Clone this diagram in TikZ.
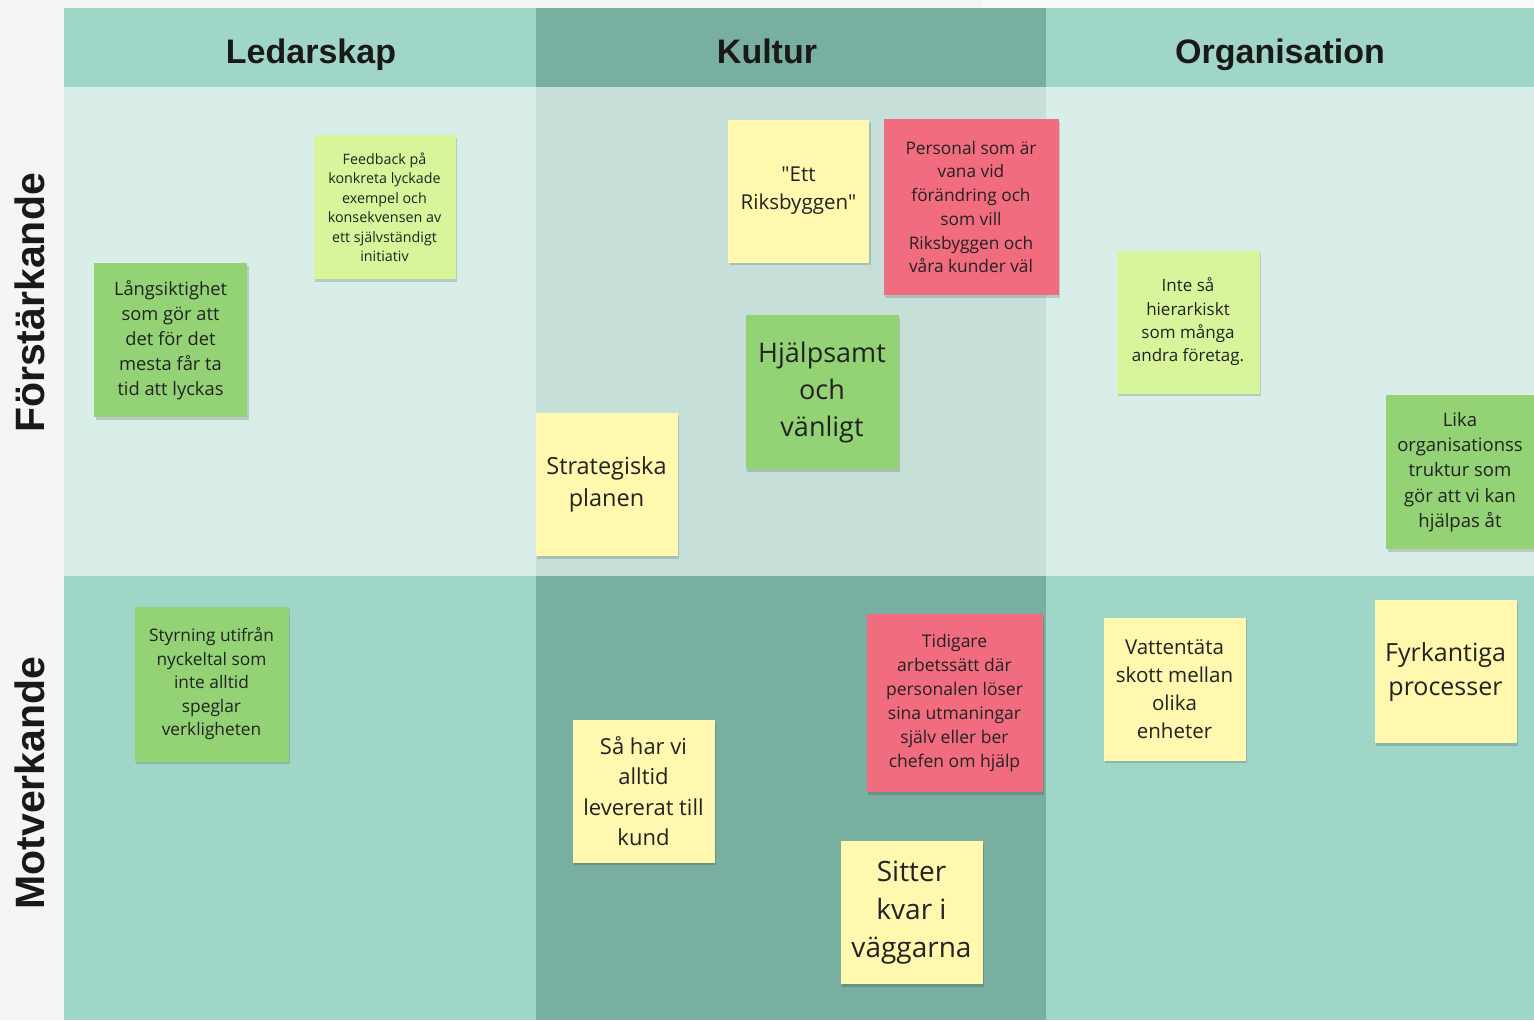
\documentclass[tikz,border=0pt]{standalone}
\usepackage{fontspec}
\setmainfont{Open Sans}
\newfontfamily\qfont{Open Sans}
\newfontfamily\hdrfont{Liberation Sans}
\usetikzlibrary{shadows}
\definecolor{bgside}{HTML}{F5F5F5}
\definecolor{hdrlight}{HTML}{A0D6C8}
\definecolor{hdrdark}{HTML}{79AFA0}
\definecolor{celllight}{HTML}{D9EEE8}
\definecolor{cellmid}{HTML}{C6E0D9}
\definecolor{ngreen}{HTML}{93D275}
\definecolor{nlgreen}{HTML}{D9F59B}
\definecolor{nyellow}{HTML}{FFF8AE}
\definecolor{nred}{HTML}{F16C7F}
\definecolor{ntext}{HTML}{222222}
\tikzset{
  notebox/.style={rectangle, inner sep=0pt, align=center, text=ntext,
    drop shadow={shadow xshift=1.5pt, shadow yshift=-2.5pt, opacity=0.15, fill=black}},
  hdr/.style={font=\hdrfont\bfseries\fontsize{34}{40}\selectfont, text=black!90, anchor=base},
  rowlab/.style={font=\hdrfont\bfseries\fontsize{41}{48}\selectfont, text=black!90, rotate=90},
}
\newcommand{\fs}[2]{\fontsize{#1}{#2}\selectfont}
\newcommand{\dq}{{\qfont"}}
\begin{document}
\begin{tikzpicture}[x=1pt,y=-1pt]
\useasboundingbox (0,0) rectangle (1534,1020);
% backgrounds
\fill[bgside] (0,0) rectangle (1534,1020);
\fill[white!98!black] (983,0) rectangle (1534,8);
% header row
\fill[hdrlight] (64,8) rectangle (536,87);
\fill[hdrdark] (536,8) rectangle (1046,87);
\fill[hdrlight] (1046,8) rectangle (1534,87);
% row 1
\fill[celllight] (64,87) rectangle (536,576);
\fill[cellmid] (536,87) rectangle (1046,576);
\fill[celllight] (1046,87) rectangle (1534,576);
% row 2
\fill[hdrlight] (64,576) rectangle (536,1020);
\fill[hdrdark] (536,576) rectangle (1046,1020);
\fill[hdrlight] (1046,576) rectangle (1534,1020);
% headers
\node[hdr] (hLed) at (311,63.5) {Ledarskap};
\node[hdr] (hKul) at (767,63.5) {Kultur};
\node[hdr] (hOrg) at (1280,63.5) {Organisation};
\node[rowlab] (rFor) at (30,303) {Förstärkande};
\node[rowlab] (rMot) at (30,783) {Motverkande};
% notes
\node[notebox, fill=nlgreen, minimum width=142, minimum height=144, font=\fs{14.3}{19.5}] (feedback) at (384.5,207)
  {Feedback på\\konkreta lyckade\\exempel och\\konsekvensen av\\ett självständigt\\initiativ};
\node[notebox, fill=ngreen, minimum width=153, minimum height=154, font=\fs{18.3}{25}] (lang) at (170.5,340)
  {Långsiktighet\\som gör att\\det för det\\mesta får ta\\tid att lyckas};
\node[notebox, fill=nyellow, minimum width=141, minimum height=143, font=\fs{20.5}{28}] (ett) at (798.5,191)
  {\dq Ett\\Riksbyggen\dq};
\node[notebox, fill=nred, minimum width=175, minimum height=176, font=\fs{17.3}{23.7}] (personal) at (971,207)
  {Personal som är\\vana vid\\förändring och\\som vill\\Riksbyggen och\\våra kunder väl};
\node[notebox, fill=ngreen, minimum width=153, minimum height=154, font=\fs{27}{37}] (hjalp) at (822,392)
  {Hjälpsamt\\och\\vänligt};
\node[notebox, fill=nyellow, minimum width=142, minimum height=143, font=\fs{23.5}{32}] (strat) at (606.5,484.5)
  {Strategiska\\planen};
\node[notebox, fill=nlgreen, minimum width=143, minimum height=143, font=\fs{17}{23.3}] (inte) at (1188,322)
  {Inte så\\hierarkiskt\\som många\\andra företag.};
\node[notebox, fill=ngreen, minimum width=148, minimum height=154, font=\fs{18.5}{25.2}] (lika) at (1460,472)
  {Lika\\organisationss\\truktur som\\gör att vi kan\\hjälpas åt};
\node[notebox, fill=ngreen, minimum width=154, minimum height=155, font=\fs{17.3}{23.5}] (styr) at (211.5,684)
  {Styrning utifrån\\nyckeltal som\\inte alltid\\speglar\\verkligheten};
\node[notebox, fill=nyellow, minimum width=142, minimum height=143, font=\fs{22}{30.3}] (sa) at (643.5,791)
  {Så har vi\\alltid\\levererat till\\kund};
\node[notebox, fill=nred, minimum width=176, minimum height=178, font=\fs{17.5}{24}] (tid) at (954.5,703)
  {Tidigare\\arbetssätt där\\personalen löser\\sina utmaningar\\själv eller ber\\chefen om hjälp};
\node[notebox, fill=nyellow, minimum width=142, minimum height=143, font=\fs{28}{38}] (sitter) at (911.5,912.5)
  {Sitter\\kvar i\\väggarna};
\node[notebox, fill=nyellow, minimum width=142, minimum height=143, font=\fs{20.5}{28}] (vatten) at (1174.5,689)
  {Vattentäta\\skott mellan\\olika\\enheter};
\node[notebox, fill=nyellow, minimum width=142, minimum height=143, font=\fs{25}{34}] (fyrk) at (1445.5,671.5)
  {Fyrkantiga\\processer};
\end{tikzpicture}
\end{document}
